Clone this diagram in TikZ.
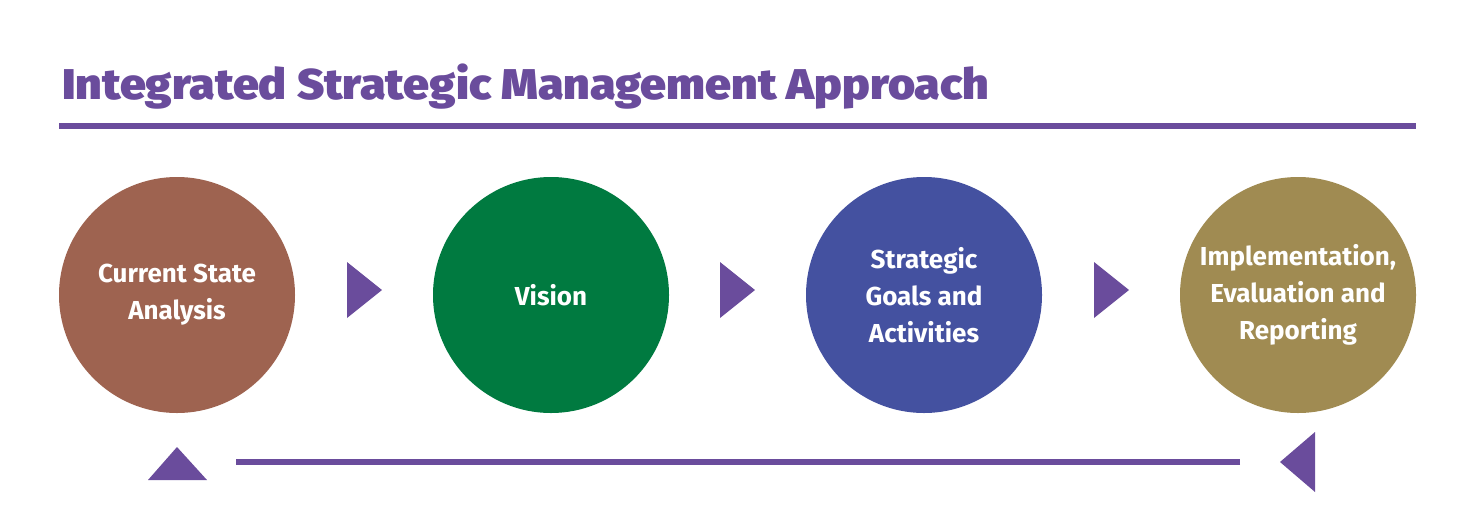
\documentclass[tikz,border=0pt]{standalone}
\usepackage{fontspec}
\setmainfont{Fira Sans}
\newfontfamily\titlefont[FakeStretch=1.08]{Fira Sans Black}
\usetikzlibrary{positioning}
\definecolor{ismPurple}{HTML}{6A4C9C}
\definecolor{ismBrown}{HTML}{9E6350}
\definecolor{ismGreen}{HTML}{007A40}
\definecolor{ismBlue}{HTML}{4451A0}
\definecolor{ismOlive}{HTML}{A08B52}
\tikzset{
  stage/.style={circle, minimum size=236pt, inner sep=0pt, text=white,
    align=center, font=\fontsize{26}{37}\selectfont\bfseries},
  rule/.style={draw=ismPurple, line width=6pt},
  pointer/.style={fill=ismPurple}
}
\begin{document}
\begin{tikzpicture}[x=1pt, y=-1pt]
  \useasboundingbox (0,0) rectangle (1475,531);
  % Title
  \node [anchor=base west, inner sep=0pt, text=ismPurple,
    font=\fontsize{43}{48}\titlefont] (title) at (62,99)
    {Integrated Strategic Management Approach};
  \coordinate (ruleL) at (59,126);
  \coordinate (ruleR) at (1416,126);
  \path [rule] (ruleL) -- (ruleR);
  % Place nodes
  \node [stage, fill=ismBrown] (current) at (177,295) {Current State\\Analysis};
  \node [stage, fill=ismGreen] (vision) at (551,295) {Vision};
  \node [stage, fill=ismBlue] (goals) at (924,295) {Strategic\\Goals and\\Activities};
  \node [stage, fill=ismOlive] (implement) at (1298,295) {Implementation,\\Evaluation and\\Reporting};
  % Arrows between stages
  \foreach \x in {347,720,1094}
    \fill [pointer] (\x,262) -- (\x+35,290) -- (\x,318) -- cycle;
  % Feedback line
  \coordinate (backR) at (1240,462);
  \coordinate (backL) at (236,462);
  \path [rule] (backR) -- (backL);
  \fill [pointer] (1315,432) -- (1280,462) -- (1315,492) -- cycle;
  \fill [pointer] (148,480) -- (177,447) -- (207,480) -- cycle;
\end{tikzpicture}
\end{document}
